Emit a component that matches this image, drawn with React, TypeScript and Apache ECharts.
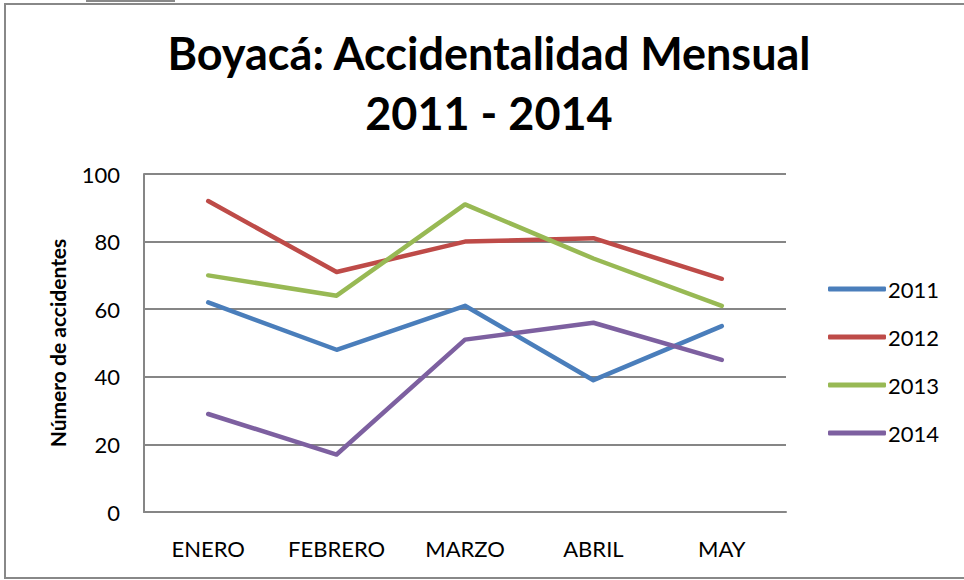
import React, { useEffect, useRef } from "react";
import * as echarts from "echarts";

const months = ["ENERO", "FEBRERO", "MARZO", "ABRIL", "MAY"];
const s2011 = [62, 48, 61, 39, 55];
const s2012 = [92, 71, 80, 81, 69];
const s2013 = [70, 64, 91, 75, 61];
const s2014 = [29, 17, 51, 56, 45];
const seriesNames = ["2011", "2012", "2013", "2014"];
const colors = ["#4A7EBB", "#BE4B48", "#98B954", "#7D60A0"];
const titleLines = ["Boyacá: Accidentalidad Mensual", "2011 - 2014"];
const yName = "Número de accidentes";

export default function App() {
  const ref = useRef<HTMLDivElement>(null);
  useEffect(() => {
    document.body.style.margin = "0";
    const chart = echarts.init(ref.current!, null, { renderer: "svg" });
    const font = "Lato";
    const data = [s2011, s2012, s2013, s2014];
    chart.setOption({
      animation: false,
      backgroundColor: "#ffffff",
      textStyle: { fontFamily: font },
      title: {
        text: titleLines.join("\n"),
        left: 484,
        textAlign: "center",
        top: 18,
        textStyle: { fontFamily: font, fontSize: 45, fontWeight: "bold", color: "#000", lineHeight: 60 },
      },
      legend: {
        orient: "vertical",
        left: 823,
        top: 273,
        itemWidth: 58,
        itemHeight: 5,
        itemGap: 26,
        icon: "roundRect",
        textStyle: { fontFamily: font, fontSize: 22, color: "#000", padding: [0, 0, 0, -3], lineHeight: 22 },
        data: seriesNames,
      },
      grid: { left: 144, top: 174, width: 642, height: 338 },
      xAxis: {
        type: "category",
        data: months,
        boundaryGap: true,
        axisLine: { lineStyle: { color: "#868686", width: 2 } },
        axisTick: { show: false },
        axisLabel: { fontFamily: font, fontSize: 22, color: "#000", margin: 25 },
      },
      yAxis: {
        type: "value",
        min: 0,
        max: 100,
        interval: 20,
        name: yName,
        nameLocation: "middle",
        nameGap: 76,
        nameTextStyle: { fontFamily: font, fontSize: 21, fontWeight: "bold", color: "#000" },
        axisLine: { show: true, lineStyle: { color: "#868686", width: 2 } },
        axisTick: { show: false },
        axisLabel: { fontFamily: font, fontSize: 22, color: "#000", margin: 24 },
        splitLine: { lineStyle: { color: "#868686", width: 2 } },
      },
      graphic: [
        { type: "rect", shape: { x: 5, y: 4, width: 965, height: 574 }, style: { fill: "none", stroke: "#888888", lineWidth: 2 }, silent: true },
        { type: "rect", shape: { x: 86, y: 0, width: 89, height: 2 }, style: { fill: "#888888" }, silent: true },
      ],
      series: seriesNames.map((n, i) => ({
        name: n,
        type: "line",
        data: data[i],
        showSymbol: false,
        symbol: "none",
        color: colors[i],
        lineStyle: { width: 4.5, color: colors[i], cap: "round", join: "round" },
      })),
    });
    return () => chart.dispose();
  }, []);
  return <div ref={ref} style={{ width: 964, height: 580 }} />;
}
